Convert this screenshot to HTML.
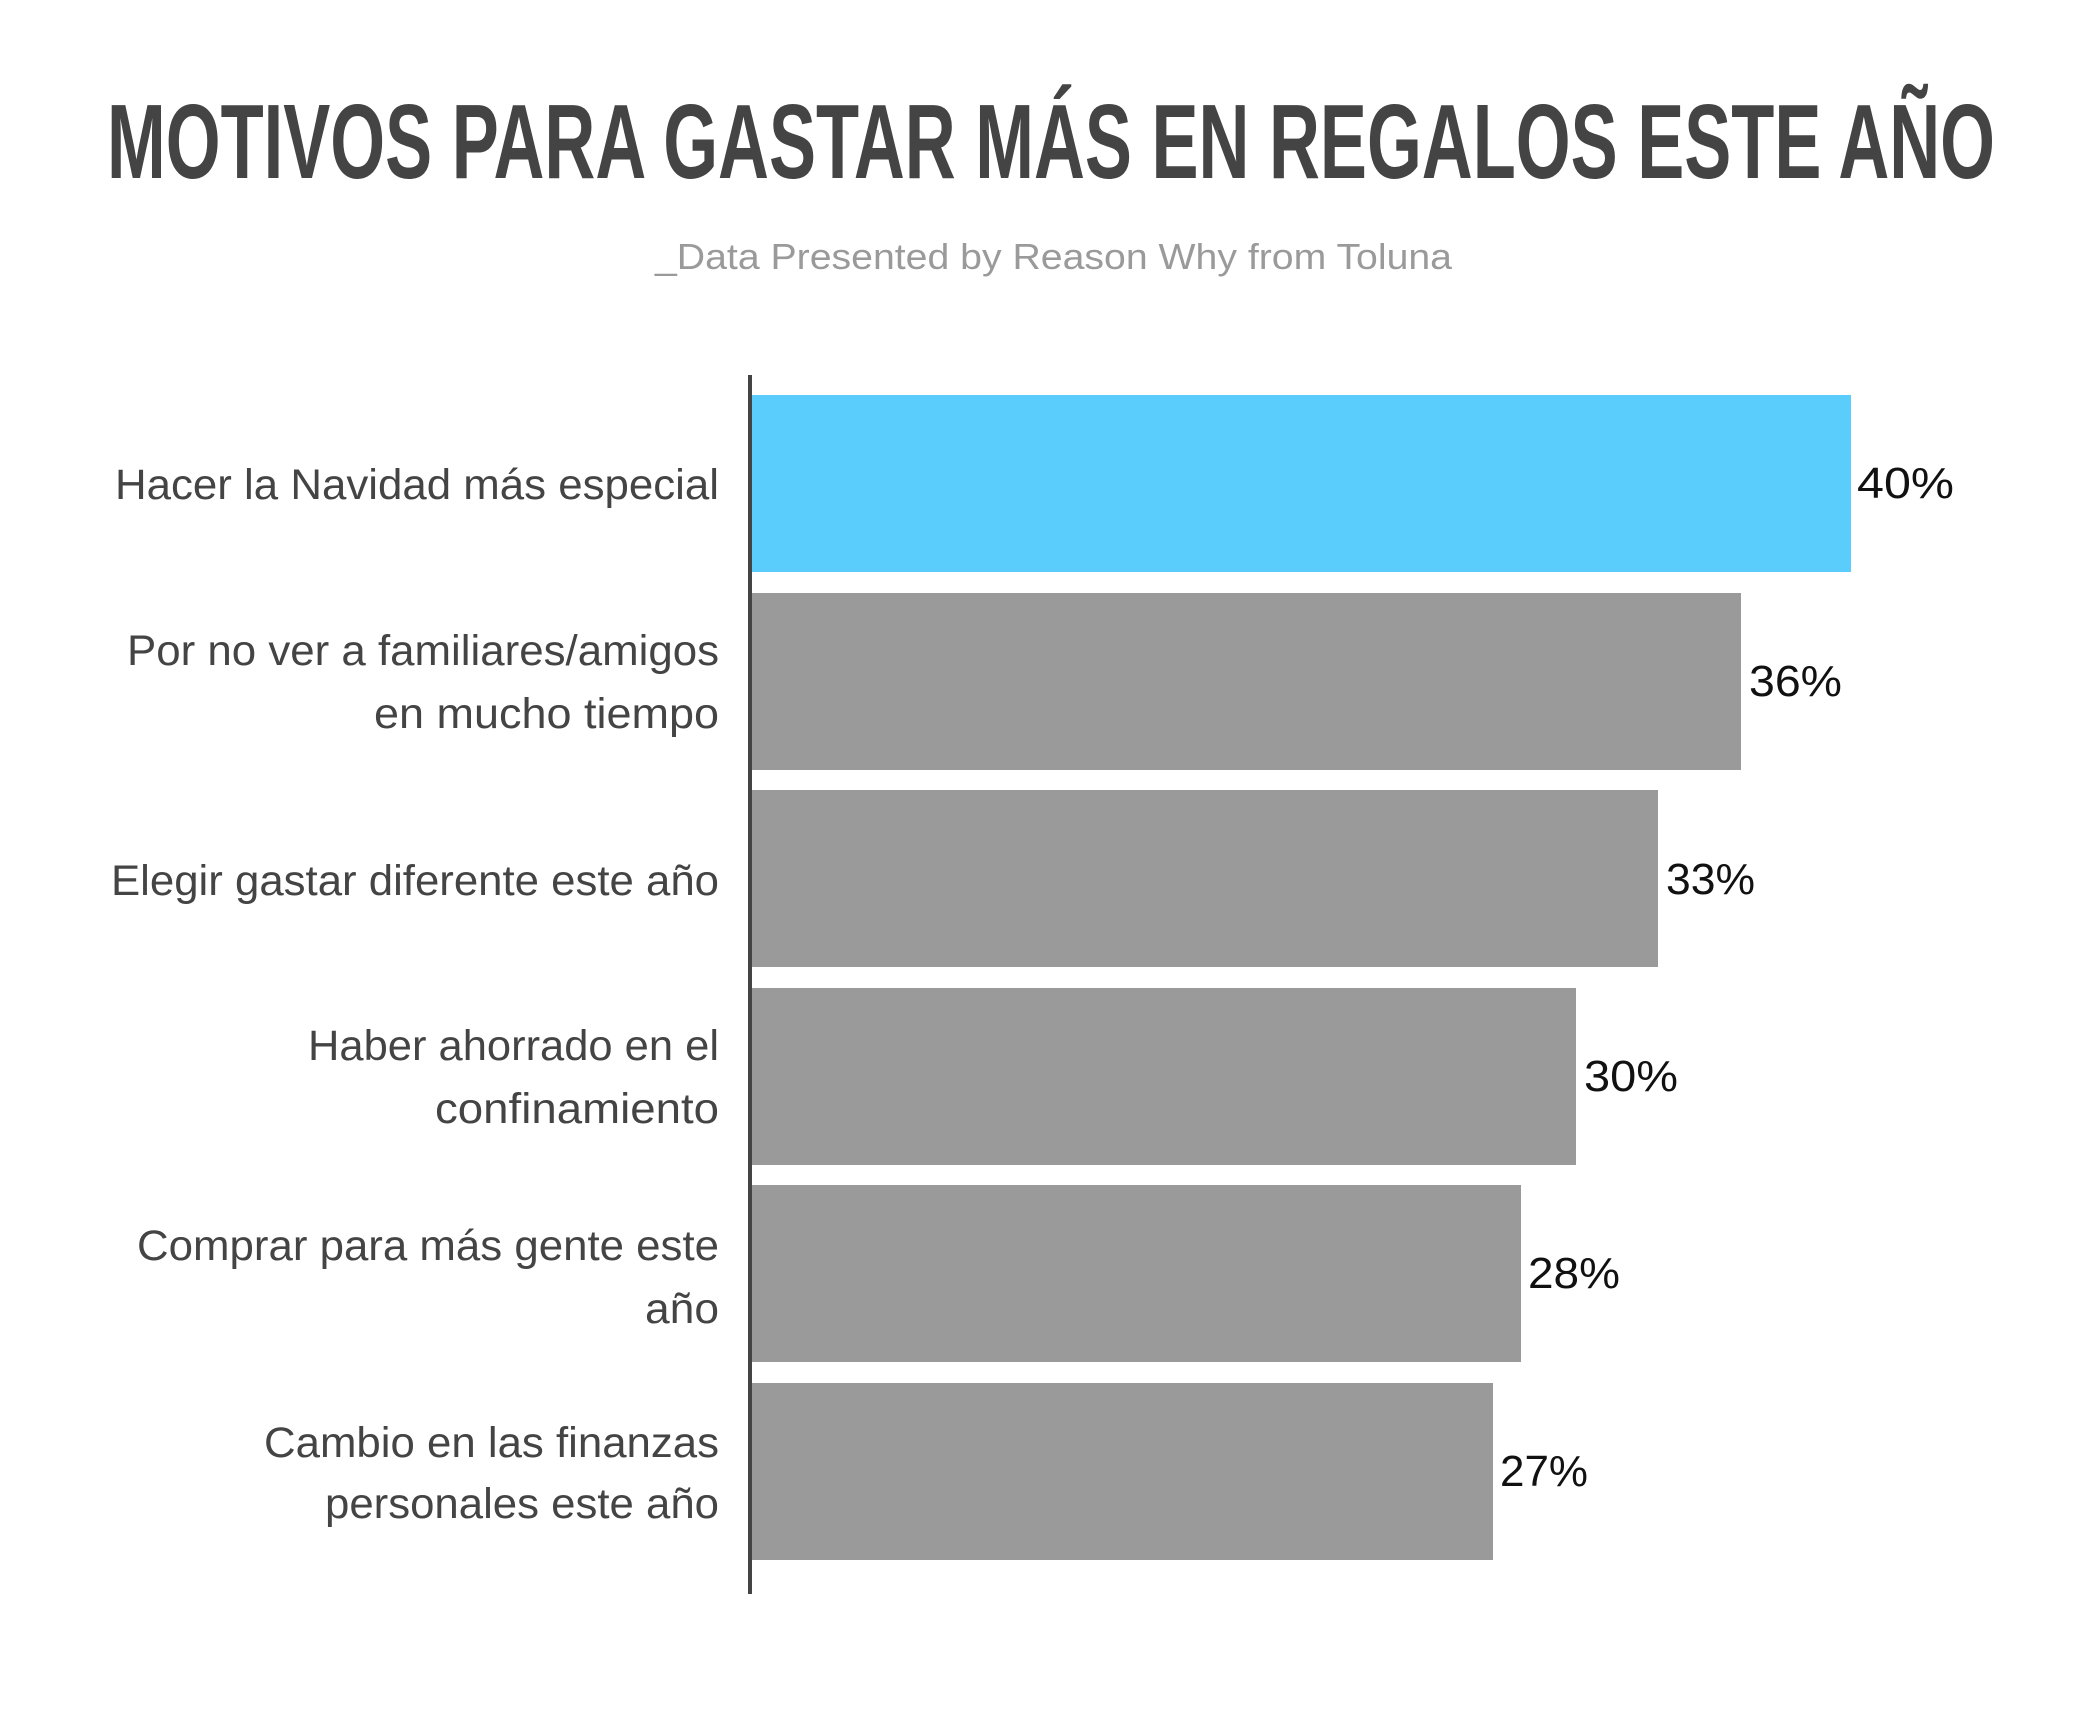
<!DOCTYPE html>
<html><head><meta charset="utf-8"><style>
html,body{margin:0;padding:0;background:#fff;}
svg{display:block;}
</style></head><body>
<svg width="2100" height="1728" viewBox="0 0 2100 1728" xmlns="http://www.w3.org/2000/svg">
<rect width="2100" height="1728" fill="#fff"/>
<text x="107" y="178" font-family="'Liberation Sans Narrow','Liberation Sans',sans-serif" font-weight="bold" font-size="106" fill="#444" textLength="1888" lengthAdjust="spacingAndGlyphs">MOTIVOS PARA GASTAR MÁS EN REGALOS ESTE AÑO</text>
<text x="655" y="269" font-family="'Liberation Sans',sans-serif" font-size="36" fill="#9a9a9a" textLength="797" lengthAdjust="spacingAndGlyphs">_Data Presented by Reason Why from Toluna</text>

<rect x="752" y="395" width="1099" height="177" fill="#5bcdfc"/>
<rect x="752" y="593" width="989" height="177" fill="#9a9a9a"/>
<rect x="752" y="790" width="906" height="177" fill="#9a9a9a"/>
<rect x="752" y="988" width="824" height="177" fill="#9a9a9a"/>
<rect x="752" y="1185" width="769" height="177" fill="#9a9a9a"/>
<rect x="752" y="1383" width="741" height="177" fill="#9a9a9a"/>
<rect x="748" y="375" width="4" height="1219" fill="#444"/>

<g font-family="'Liberation Sans',sans-serif" font-size="43" fill="#444" text-anchor="start">
<text x="115" y="499" textLength="604" lengthAdjust="spacingAndGlyphs">Hacer la Navidad más especial</text>
<text x="127" y="665" textLength="592" lengthAdjust="spacingAndGlyphs">Por no ver a familiares/amigos</text>
<text x="374" y="728" textLength="345" lengthAdjust="spacingAndGlyphs">en mucho tiempo</text>
<text x="111" y="895" textLength="608" lengthAdjust="spacingAndGlyphs">Elegir gastar diferente este año</text>
<text x="308" y="1060" textLength="411" lengthAdjust="spacingAndGlyphs">Haber ahorrado en el</text>
<text x="435" y="1123" textLength="284" lengthAdjust="spacingAndGlyphs">confinamiento</text>
<text x="137" y="1260" textLength="582" lengthAdjust="spacingAndGlyphs">Comprar para más gente este</text>
<text x="645" y="1323" textLength="74" lengthAdjust="spacingAndGlyphs">año</text>
<text x="264" y="1457" textLength="455" lengthAdjust="spacingAndGlyphs">Cambio en las finanzas</text>
<text x="325" y="1518" textLength="394" lengthAdjust="spacingAndGlyphs">personales este año</text>
</g>
<g font-family="'Liberation Sans',sans-serif" font-size="44" fill="#111">
<text x="1857" y="498" textLength="97" lengthAdjust="spacingAndGlyphs">40%</text>
<text x="1749" y="696" textLength="93" lengthAdjust="spacingAndGlyphs">36%</text>
<text x="1666" y="894" textLength="89" lengthAdjust="spacingAndGlyphs">33%</text>
<text x="1584" y="1091" textLength="94" lengthAdjust="spacingAndGlyphs">30%</text>
<text x="1528" y="1288" textLength="92" lengthAdjust="spacingAndGlyphs">28%</text>
<text x="1500" y="1486" textLength="88" lengthAdjust="spacingAndGlyphs">27%</text>
</g>
</svg>
</body></html>
